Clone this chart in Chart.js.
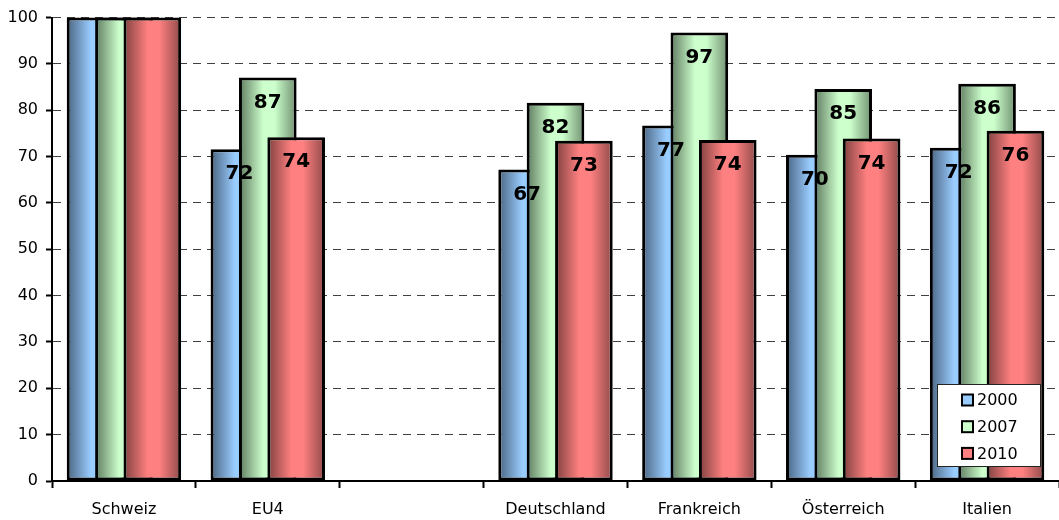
<!DOCTYPE html>
<html><head><meta charset="utf-8">
<script src="https://cdn.jsdelivr.net/npm/chart.js@4"></script>
<style>html,body{margin:0;padding:0;background:#fff;overflow:hidden}</style>
</head><body>
<canvas id="c" width="1059" height="520"></canvas>
<script>
const categories = ['Schweiz', 'EU4', '', 'Deutschland', 'Frankreich', 'Österreich', 'Italien'];
const series2000 = [100, 71.6, null, 67.2, 76.7, 70.4, 71.9];
const series2007 = [100, 87.1, null, 81.6, 96.8, 84.6, 85.7];
const series2010 = [100, 74.2, null, 73.4, 73.6, 73.9, 75.6];
const seriesNames = ['2000', '2007', '2010'];
const showValueLabels = [false, true, false, true, true, true, true];
const yMin = 0, yMax = 100, yStep = 10;

const palette = [
  {light: '#99ccff', dark: '#4a6480', dark2: '#5a7a99'},
  {light: '#ccffcc', dark: '#5f7a5f', dark2: '#6f8f6f'},
  {light: '#ff8080', dark: '#7f4040', dark2: '#8f4a4a'}
];

const gradientAndOrderPlugin = {
  id: 'gradientAndOrder',
  beforeDatasetsDraw(chart) {
    const ctx = chart.ctx;
    chart.data.datasets.forEach((ds, i) => {
      const meta = chart.getDatasetMeta(i);
      const pal = palette[i];
      meta.data.forEach(el => {
        const x = el.x, w = el.width;
        if (!isFinite(x) || !w) return;
        const g = ctx.createLinearGradient(x - w / 2, 0, x + w / 2, 0);
        g.addColorStop(0, pal.dark);
        g.addColorStop(0.42, pal.light);
        g.addColorStop(0.62, pal.light);
        g.addColorStop(1, pal.dark2);
        if (Object.isFrozen(el.options)) {
          el.options = Object.assign({}, el.options, {backgroundColor: g});
        } else {
          el.options.backgroundColor = g;
        }
      });
    });
    // draw in dataset order so later series lie on top
    chart.data.datasets.forEach((ds, i) => {
      chart.getDatasetMeta(i).controller.draw();
    });
    return false;
  },
  afterDraw(chart) {
    const ctx = chart.ctx;
    // value labels
    ctx.save();
    ctx.font = 'bold 20px "DejaVu Sans"';
    ctx.fillStyle = '#000';
    ctx.textAlign = 'center';
    ctx.textBaseline = 'middle';
    chart.data.datasets.forEach((ds, i) => {
      const meta = chart.getDatasetMeta(i);
      meta.data.forEach((el, j) => {
        const v = ds.data[j];
        if (v === null || !showValueLabels[j]) return;
        ctx.fillText(String(Math.round(v)), el.x, el.y + 25);
      });
    });
    ctx.restore();
    // legend
    const area = chart.chartArea;
    const bw = 104, bh = 83;
    const bx = area.right - 18 - bw, by = area.bottom - 14 - bh;
    ctx.save();
    ctx.fillStyle = '#fff';
    ctx.fillRect(bx, by, bw, bh);
    ctx.strokeStyle = '#222';
    ctx.lineWidth = 1;
    ctx.strokeRect(bx + 0.5, by + 0.5, bw - 1, bh - 1);
    ctx.font = '16px "DejaVu Sans"';
    ctx.textBaseline = 'middle';
    ctx.textAlign = 'left';
    seriesNames.forEach((name, i) => {
      const cy = by + 16 + i * 26.7;
      ctx.fillStyle = palette[i].light;
      ctx.fillRect(bx + 25, cy - 5.5, 11, 11);
      ctx.strokeStyle = '#000';
      ctx.lineWidth = 2;
      ctx.strokeRect(bx + 25, cy - 5.5, 11, 11);
      ctx.fillStyle = '#000';
      ctx.fillText(name, bx + 40, cy + 1);
    });
    ctx.restore();
  }
};

const seriesValues = [series2000, series2007, series2010];
new Chart(document.getElementById('c'), {
  type: 'bar',
  data: {
    labels: categories,
    datasets: seriesValues.map((vals, i) => ({
      label: seriesNames[i],
      data: vals,
      backgroundColor: () => palette[i].light,
      borderColor: '#000',
      borderWidth: 3,
      borderSkipped: false,
      categoryPercentage: 0.592,
      barPercentage: 2.03
    }))
  },
  options: {
    responsive: false,
    animation: false,
    devicePixelRatio: 1,
    layout: {padding: {top: 17, right: 0, bottom: 0, left: 0}},
    plugins: {legend: {display: false}, tooltip: {enabled: false}},
    scales: {
      x: {
        ticks: {color: '#000', font: {family: 'DejaVu Sans', size: 16}, padding: 12, maxRotation: 0, autoSkip: false},
        grid: {display: true, drawOnChartArea: false, drawTicks: true, tickLength: 7, tickColor: '#000', tickWidth: 2, offset: true},
        border: {color: '#000', width: 2},
        afterFit(s) { s.height = 39; }
      },
      y: {
        min: yMin, max: yMax,
        ticks: {stepSize: yStep, color: '#000', font: {family: 'DejaVu Sans', size: 16}, padding: 8},
        grid: {color: '#404040', lineWidth: 1, tickColor: '#000', tickLength: 6, tickWidth: 2},
        border: {color: '#000', width: 2, dash: [8, 6]},
        afterFit(s) { s.width = 52; }
      }
    }
  },
  plugins: [gradientAndOrderPlugin]
});
</script>
</body></html>
